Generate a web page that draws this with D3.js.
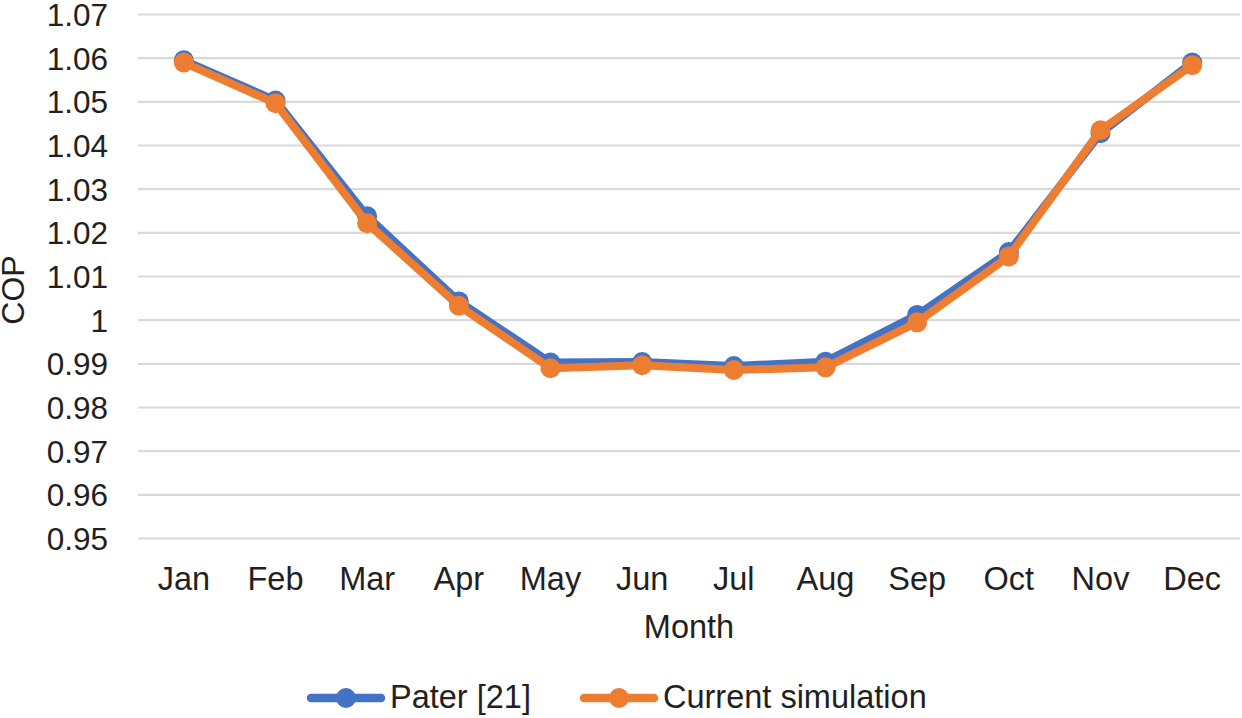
<!DOCTYPE html>
<html>
<head>
<meta charset="utf-8">
<script src="https://cdn.jsdelivr.net/npm/d3@7"></script>
<style>
  html, body { margin: 0; padding: 0; background: #fff; }
  svg { display: block; font-family: "Liberation Sans", Arial, Helvetica, sans-serif; }
</style>
</head>
<body>
<svg id="chart" width="1242" height="718"></svg>
<script>
const months = ["Jan","Feb","Mar","Apr","May","Jun","Jul","Aug","Sep","Oct","Nov","Dec"];
const pater = [1.0595, 1.0503, 1.0238, 1.0043, 0.9903, 0.9904, 0.9895, 0.9905, 1.0012, 1.0156, 1.0428, 1.0590];
const current = [1.0590, 1.0497, 1.0222, 1.0033, 0.9890, 0.9897, 0.9886, 0.9892, 0.9995, 1.0146, 1.0435, 1.0584];
const yTicks = [0.95, 0.96, 0.97, 0.98, 0.99, 1.00, 1.01, 1.02, 1.03, 1.04, 1.05, 1.06, 1.07];
const seriesNames = ["Pater [21]", "Current simulation"];
const seriesColors = ["#4472C4", "#ED7D31"];

const svg = d3.select("#chart");
const plotLeft = 138, plotRight = 1238, plotTop = 14.5, plotBottom = 538.5;
const textColor = "#231f20";

const x = d3.scaleBand().domain(months).range([plotLeft, plotRight]);
const y = d3.scaleLinear().domain([0.95, 1.07]).range([plotBottom, plotTop]);

// gridlines
svg.append("g").selectAll("line").data(yTicks).join("line")
  .attr("x1", plotLeft).attr("x2", plotRight + 2)
  .attr("y1", d => y(d)).attr("y2", d => y(d))
  .attr("stroke", "#d9d9d9").attr("stroke-width", 2.2);

// y tick labels
const yFmt = d => (d === 1 ? "1" : d3.format(".2f")(d));
svg.append("g").selectAll("text").data(yTicks).join("text")
  .attr("x", 108).attr("y", d => y(d))
  .attr("dy", "0.36em")
  .attr("text-anchor", "end")
  .attr("font-size", 31.5).attr("fill", textColor)
  .text(yFmt);

// x tick labels
svg.append("g").selectAll("text").data(months).join("text")
  .attr("x", d => x(d) + x.bandwidth() / 2).attr("y", 590)
  .attr("text-anchor", "middle")
  .attr("font-size", 32.5).attr("fill", textColor)
  .text(d => d);

// axis titles
svg.append("text").attr("x", 689).attr("y", 638)
  .attr("text-anchor", "middle").attr("font-size", 32.5).attr("fill", textColor).text("Month");
svg.append("text").attr("transform", "translate(24,290) rotate(-90)")
  .attr("text-anchor", "middle").attr("font-size", 32).attr("fill", textColor).text("COP");

const line = d3.line().x((d, i) => x(months[i]) + x.bandwidth() / 2).y(d => y(d));
const allSeries = [pater, current];

allSeries.forEach((vals, si) => {
  const g = svg.append("g");
  g.append("path").datum(vals).attr("d", line)
    .attr("fill", "none").attr("stroke", seriesColors[si])
    .attr("stroke-width", 8).attr("stroke-linejoin", "round").attr("stroke-linecap", "round");
  g.selectAll("circle").data(vals).join("circle")
    .attr("cx", (d, i) => x(months[i]) + x.bandwidth() / 2)
    .attr("cy", d => y(d))
    .attr("r", 10)
    .attr("fill", seriesColors[si]);
});

// legend
const legendItems = [{name: seriesNames[0], color: seriesColors[0], x0: 307},
                     {name: seriesNames[1], color: seriesColors[1], x0: 580}];
const lg = svg.append("g");
legendItems.forEach(it => {
  lg.append("line").attr("x1", it.x0 + 4).attr("x2", it.x0 + 74)
    .attr("y1", 698).attr("y2", 698)
    .attr("stroke", it.color).attr("stroke-width", 8.5).attr("stroke-linecap", "round");
  lg.append("circle").attr("cx", it.x0 + 39).attr("cy", 698).attr("r", 10).attr("fill", it.color);
  lg.append("text").attr("x", it.x0 + 83).attr("y", 707.5)
    .attr("font-size", 32.5).attr("fill", textColor).text(it.name);
});
</script>
</body>
</html>
